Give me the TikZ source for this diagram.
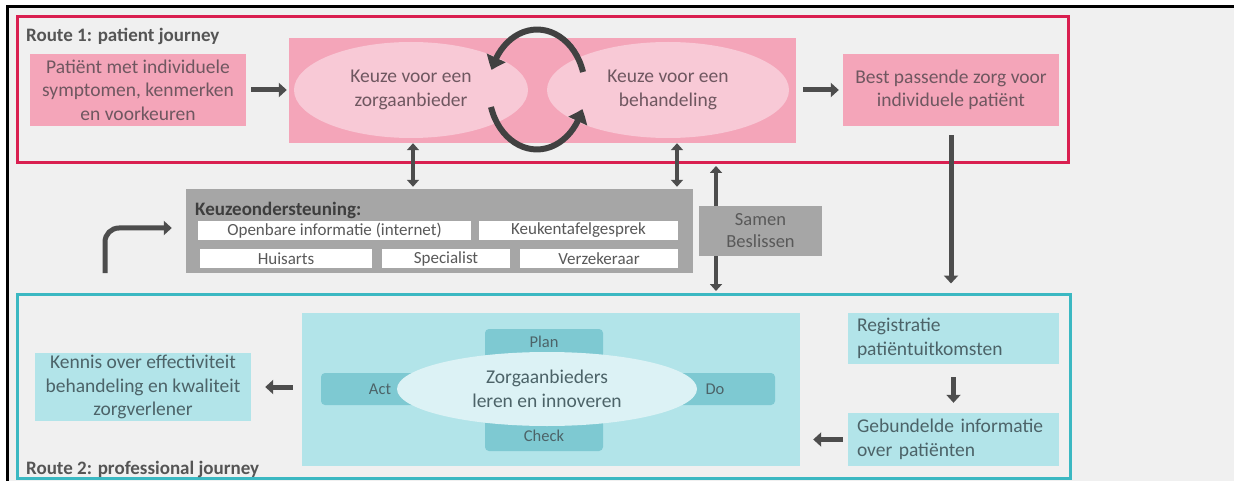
\documentclass[tikz,border=0pt]{standalone}
\usepackage{fontspec}
\setmainfont{Carlito}
\usetikzlibrary{arrows.meta,shapes.geometric,bending}
\definecolor{bg}{HTML}{F0F0F0}
\definecolor{pinkframe}{HTML}{D91F50}
\definecolor{pinkbox}{HTML}{F4A5B9}
\definecolor{pinkell}{HTML}{F8C9D6}
\definecolor{pinktext}{HTML}{6F5760}
\definecolor{tealframe}{HTML}{3BB8C2}
\definecolor{tealbox}{HTML}{B2E4E9}
\definecolor{tealdark}{HTML}{7EC9D2}
\definecolor{tealell}{HTML}{DCF2F5}
\definecolor{tealtext}{HTML}{4C6368}
\definecolor{graybox}{HTML}{A6A6A6}
\definecolor{graytext}{HTML}{595959}
\definecolor{titlegray}{HTML}{555555}
\definecolor{arrowgray}{HTML}{4D4D4D}
\tikzset{
  mainfont/.style={font=\fontsize{19.5}{23.5}\selectfont},
  pbox/.style={rectangle, fill=pinkbox, text=pinktext, inner sep=0pt, align=center, mainfont},
  pell/.style={ellipse, fill=pinkell, text=pinktext, inner sep=0pt, align=center, mainfont},
  tbox/.style={rectangle, fill=tealbox, text=tealtext, inner sep=0pt, align=center, mainfont},
  wbox/.style={rectangle, fill=white, text=graytext, inner sep=0pt, font=\fontsize{17}{19}\selectfont},
  framebox/.style={rectangle, draw, line width=3pt, inner sep=0pt},
  titletext/.style={anchor=west, inner sep=0pt, text=titlegray, font=\bfseries\fontsize{19}{22}\selectfont},
  blk/.style={draw=arrowgray, line width=5pt, -{Triangle[width=14pt,length=8pt]}},
  dbl/.style={draw=arrowgray, line width=4.5pt, {Triangle[width=12pt,length=7pt]}-{Triangle[width=12pt,length=7pt]}},
  cyc/.style={draw=arrowgray!85!black, line width=6pt, -{Triangle[width=20pt,length=13pt,bend]}},
  pdcabar/.style={rectangle, rounded corners=4pt, fill=tealdark, inner sep=0pt},
  pdcalabel/.style={text=tealtext, inner sep=0pt, font=\fontsize{16.5}{19}\selectfont}
}
\begin{document}
\begin{tikzpicture}[x=1pt,y=-1pt]
\useasboundingbox (0,0) rectangle (1234,481);
\fill[white] (0,0) rectangle (1234,481);
\fill[bg] (7,7) rectangle (1234,481);
\draw[line width=3pt] (7,481) -- (7,7) -- (1234,7);

% Route 1
\node[framebox, draw=pinkframe, minimum width=1051pt, minimum height=146pt] (r1) at (542.5,90) {};
\node[titletext] (t1) at (26,36) {Route 1: patient journey};
\node[pbox, minimum width=216pt, minimum height=72pt] (patient) at (138,90)
  {Patiënt met individuele\\symptomen, kenmerken\\en voorkeuren};
\node[rectangle, fill=pinkbox, minimum width=507pt, minimum height=105pt] (big) at (542.5,90.5) {};
\node[pell, minimum width=234pt, minimum height=96pt] (ell1) at (411,90) {Keuze voor een\\zorgaanbieder};
\node[pell, minimum width=242pt, minimum height=96pt] (ell2) at (668,90) {Keuze voor een\\behandeling};
\node[pbox, minimum width=216pt, minimum height=72pt] (best) at (951,90)
  {Best passende zorg voor\\individuele patiënt};

% circular arrows
\coordinate (ctop) at (583,72);
\coordinate (cbot) at (491,107);
\draw[cyc] (ctop) arc[start angle=-17, end angle=-161, x radius=48, y radius=60];
\draw[cyc] (cbot) arc[start angle=163, end angle=19, x radius=48, y radius=60];

\draw[blk] ([xshift=5pt]patient.east) -- ([xshift=-2pt]big.west |- patient.east);
\draw[blk] ([xshift=7pt]big.east |- best.west) -- ([xshift=-4pt]best.west);

% Route 2 frame
\node[framebox, draw=tealframe, minimum width=1053pt, minimum height=184pt] (r2) at (543.5,386) {};
\node[titletext] (t2) at (26,469) {Route 2: professional journey};

% Keuzeondersteuning
\node[rectangle, fill=graybox, minimum width=507pt, minimum height=84pt] (gray) at (439.5,231) {};
\node[anchor=west, inner sep=0pt, text=graytext!70!black, font=\bfseries\fontsize{19}{22}\selectfont] (kt) at (195,210) {Keuzeondersteuning:};
\node[wbox, minimum width=273pt, minimum height=19pt] (w1) at (334.5,230.5) {Openbare informatie (internet)};
\node[wbox, minimum width=199pt, minimum height=19pt] (w2) at (578.5,230.5) {Keukentafelgesprek};
\node[wbox, minimum width=172pt, minimum height=19pt] (w3) at (286,258.5) {Huisarts};
\node[wbox, minimum width=128pt, minimum height=19pt] (w4) at (446,258.5) {Specialist};
\node[wbox, minimum width=158pt, minimum height=19pt] (w5) at (599,258.5) {Verzekeraar};

\coordinate (d1) at (413,0);
\coordinate (d2) at (677,0);
\coordinate (d3) at (716,0);
\draw[dbl] (d1 |- big.south) -- ([yshift=2pt]d1 |- gray.north);
\draw[dbl] (d2 |- big.south) -- ([yshift=2pt]d2 |- gray.north);
\draw[dbl] ([yshift=-1.5pt]d3 |- r1.south) -- ([yshift=1.5pt]d3 |- r2.north);
\node[rectangle, fill=graybox, text=graytext, align=center, inner sep=0pt, minimum width=123pt, minimum height=50pt, font=\fontsize{18.5}{22}\selectfont] (samen) at (760.5,231) {Samen\\Beslissen};

% bent arrow
\coordinate (bstart) at (105,273);
\coordinate (bend) at (105,228);
\draw[blk, rounded corners=14pt] (bstart) -- (bend) -- ([xshift=-14pt]gray.west |- bend);

% route 1 -> route 2
\draw[blk] ([yshift=-9pt]best.south) -- ([yshift=9pt]best.south |- r2.north);

% Route 2 content
\node[tbox, minimum width=216pt, minimum height=68pt] (kennis) at (143,387)
  {Kennis over effectiviteit\\behandeling en kwaliteit\\zorgverlener};
\node[rectangle, fill=tealbox, minimum width=498pt, minimum height=153pt] (pdca) at (551,389.5) {};
\node[pdcabar, minimum width=454pt, minimum height=32pt] (hbar) at (548,389) {};
\node[pdcabar, minimum width=118pt, minimum height=122pt] (vbar) at (544,390) {};
\node[pdcalabel] (plan) at (544,342) {Plan};
\node[pdcalabel] (check) at (544,436) {Check};
\node[pdcalabel] (act) at (380,389) {Act};
\node[pdcalabel] (do) at (715,389) {Do};
\node[ellipse, fill=tealell, text=tealtext, inner sep=0pt, align=center, mainfont, minimum width=300pt, minimum height=74pt] (zorg) at (547,389)
  {Zorgaanbieders\\leren en innoveren};

\node[tbox, align=left, text width=193pt, inner xsep=9pt, minimum height=51pt] (regis) at (953.5,338.5)
  {Registratie\\patiëntuitkomsten};
\node[tbox, align=left, text width=193pt, inner xsep=9pt, minimum height=53pt] (gebund) at (953.5,439.5)
  {Gebundelde informatie\\over patiënten};

\draw[blk] ([yshift=-13pt]regis.south) -- ([yshift=10pt]gebund.north);
\draw[blk] ([xshift=-5pt]gebund.west) -- ([xshift=13pt]pdca.east |- gebund.west);
\draw[blk] ([xshift=-9pt]pdca.west |- kennis.east) -- ([xshift=14pt]kennis.east);
\end{tikzpicture}
\end{document}
